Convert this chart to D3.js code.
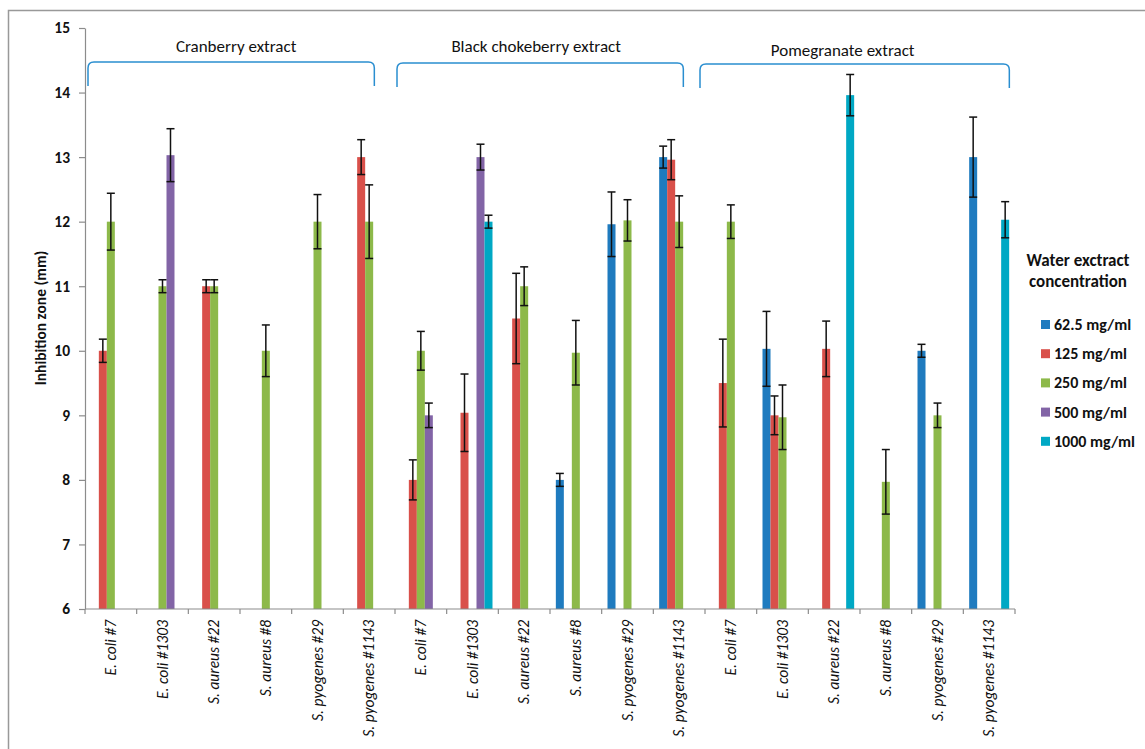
<!DOCTYPE html>
<html><head><meta charset="utf-8">
<script src="https://cdn.jsdelivr.net/npm/d3@7"></script>
<style>body{margin:0;background:#fff}svg{display:block}text{font-family:Carlito,Calibri,"Open Sans",sans-serif}</style>
</head><body>
<svg id="c" width="1145" height="749"></svg>
<script>
const extracts = ["Cranberry extract", "Black chokeberry extract", "Pomegranate extract"];
const strains = ["E. coli #7", "E. coli #1303", "S. aureus #22", "S. aureus #8", "S. pyogenes #29", "S. pyogenes #1143"];
const seriesNames = ["62.5 mg/ml", "125 mg/ml", "250 mg/ml", "500 mg/ml", "1000 mg/ml"];
const seriesColors = ["#1f7bbf", "#d9504a", "#8db94a", "#8264a6", "#00a8c4"];
const yTicks = [6, 7, 8, 9, 10, 11, 12, 13, 14, 15];
// values per category (18 = 3 extracts x 6 strains), null = no bar
const s62 = [null, null, null, null, null, null,  null, null, null, 8.0, 11.96, 13.0,  null, 10.03, null, null, 10.0, 13.0];
const s125 = [10.0, null, 11.0, null, null, 13.0,  8.0, 9.04, 10.5, null, null, 12.96,  9.5, 9.0, 10.03, null, null, null];
const s250 = [12.0, 11.0, 11.0, 10.0, 12.0, 12.0,  10.0, null, 11.0, 9.97, 12.02, 12.0,  12.0, 8.97, null, 7.97, 9.0, null];
const s500 = [null, 13.03, null, null, null, null,  9.0, 13.0, null, null, null, null,  null, null, null, null, null, null];
const s1000 = [null, null, null, null, null, null,  null, 12.0, null, null, null, null,  null, null, 13.96, null, null, 12.03];
// error bar half-widths
const e62 = [null, null, null, null, null, null,  null, null, null, 0.1, 0.5, 0.17,  null, 0.58, null, null, 0.1, 0.62];
const e125 = [0.18, null, 0.1, null, null, 0.27,  0.31, 0.6, 0.7, null, null, 0.31,  0.68, 0.3, 0.43, null, null, null];
const e250 = [0.44, 0.1, 0.1, 0.4, 0.42, 0.57,  0.3, null, 0.3, 0.5, 0.32, 0.4,  0.26, 0.5, null, 0.5, 0.19, null];
const e500 = [null, 0.41, null, null, null, null,  0.19, 0.2, null, null, null, null,  null, null, null, null, null, null];
const e1000 = [null, null, null, null, null, null,  null, 0.1, null, null, null, null,  null, null, 0.32, null, null, 0.28];

const values = [s62, s125, s250, s500, s1000];
const errors = [e62, e125, e250, e500, e1000];
const categories = [];
extracts.forEach((e, gi) => strains.forEach((s, si) => categories.push({id: gi + "|" + si, group: gi, label: s})));

const svg = d3.select("#c");
const pLeft = 85, pRight = 1015, pTop = 28, pBottom = 609;

// outer frame
svg.append("path").attr("d", `M8.5,749 V10.5 H1145`).attr("fill", "none").attr("stroke", "#999").attr("stroke-width", 1.5);

const x = d3.scaleBand().domain(categories.map(c => c.id)).range([pLeft, pRight]).padding(0);
const xs = d3.scaleBand().domain(d3.range(5)).range([0, x.bandwidth()]).paddingInner(0).paddingOuter(0.73);
const y = d3.scaleLinear().domain([6, 15]).range([pBottom, pTop]);

// bars
const bars = [];
values.forEach((arr, si) => arr.forEach((v, ci) => { if (v != null) bars.push({si, ci, v, e: errors[si][ci]}); }));
svg.append("g").selectAll("rect").data(bars).join("rect")
  .attr("x", d => x(categories[d.ci].id) + xs(d.si))
  .attr("width", xs.bandwidth())
  .attr("y", d => y(d.v))
  .attr("height", d => y(6) - y(d.v))
  .attr("fill", d => seriesColors[d.si]);

// error bars
const eg = svg.append("g").attr("stroke", "#111").attr("stroke-width", 1.5);
bars.filter(d => d.e != null).forEach(d => {
  const cx = x(categories[d.ci].id) + xs(d.si) + xs.bandwidth() / 2;
  const y1 = y(d.v + d.e), y2 = y(d.v - d.e);
  eg.append("line").attr("x1", cx).attr("x2", cx).attr("y1", y1).attr("y2", y2);
  eg.append("line").attr("x1", cx - 4).attr("x2", cx + 4).attr("y1", y1).attr("y2", y1);
  eg.append("line").attr("x1", cx - 4).attr("x2", cx + 4).attr("y1", y2).attr("y2", y2);
});

// y axis
const yAxis = svg.append("g").attr("transform", `translate(${pLeft},0)`)
  .call(d3.axisLeft(y).tickValues(yTicks).tickSize(6).tickSizeOuter(0).tickFormat(d3.format("d")));
yAxis.select(".domain").attr("stroke", "#8c8c8c").attr("stroke-width", 1.2);
yAxis.selectAll(".tick line").attr("stroke", "#8c8c8c").attr("stroke-width", 1.2);
yAxis.selectAll(".tick text").attr("font-size", 15.5).attr("font-weight", "bold").attr("fill", "#111")
  .attr("x", -15).attr("font-family", "Carlito, Calibri, 'Open Sans', sans-serif");

// x axis line and ticks
const xg = svg.append("g");
xg.append("line").attr("x1", pLeft).attr("x2", pRight).attr("y1", pBottom).attr("y2", pBottom).attr("stroke", "#8c8c8c").attr("stroke-width", 1.2);
const tickPos = categories.map(c => x(c.id)).concat([pRight]);
xg.selectAll("line.t").data(tickPos).join("line").attr("class", "t")
  .attr("x1", d => d).attr("x2", d => d).attr("y1", pBottom).attr("y2", pBottom + 5)
  .attr("stroke", "#8c8c8c").attr("stroke-width", 1.2);
xg.selectAll("text").data(categories).join("text")
  .attr("transform", d => `translate(${x(d.id) + x.bandwidth() / 2 + 5},${pBottom + 11}) rotate(-90)`)
  .attr("text-anchor", "end").attr("font-size", 15.5).attr("font-style", "italic").attr("fill", "#111")
  .text(d => d.label);

// y axis title
svg.append("text").attr("transform", `translate(46,318) rotate(-90)`)
  .attr("text-anchor", "middle").attr("font-size", 15.5).attr("font-weight", "bold").attr("fill", "#111")
  .text("Inhibition zone (mm)");

// group brackets
const bracketY = [62, 63, 64];
const labelY = [52, 52, 56];
const bracketStart = [3, 2, -5];
const bracketEnd = [31, 30, 46];
const labelShift = [5, -4, -12];
extracts.forEach((name, gi) => {
  const x0 = x(gi + "|0") + bracketStart[gi], x1 = x(gi + "|5") + bracketEnd[gi];
  const by = bracketY[gi];
  svg.append("path")
    .attr("d", `M${x0},${by + 24} V${by + 6} Q${x0},${by} ${x0 + 6},${by} H${x1 - 6} Q${x1},${by} ${x1},${by + 6} V${by + 24}`)
    .attr("fill", "none").attr("stroke", "#2a8ed0").attr("stroke-width", 1.5);
  svg.append("text").attr("x", (x0 + x1) / 2 + labelShift[gi]).attr("y", labelY[gi]).attr("text-anchor", "middle")
    .attr("font-size", 17).attr("fill", "#111").text(name);
});

// legend
const lg = svg.append("g");
lg.append("text").attr("x", 1078).attr("y", 266).attr("text-anchor", "middle").attr("font-size", 17).attr("font-weight", "bold").attr("fill", "#111").text("Water exctract");
lg.append("text").attr("x", 1078).attr("y", 287).attr("text-anchor", "middle").attr("font-size", 17).attr("font-weight", "bold").attr("fill", "#111").text("concentration");
const li = lg.selectAll("g.i").data(seriesNames).join("g").attr("class", "i")
  .attr("transform", (d, i) => `translate(1041,${320 + i * 29.2})`);
li.append("rect").attr("width", 9).attr("height", 9).attr("fill", (d, i) => seriesColors[i]);
li.append("text").attr("x", 13).attr("y", 10).attr("font-size", 16).attr("font-weight", "bold").attr("fill", "#111").text(d => d);
</script>
</body></html>
